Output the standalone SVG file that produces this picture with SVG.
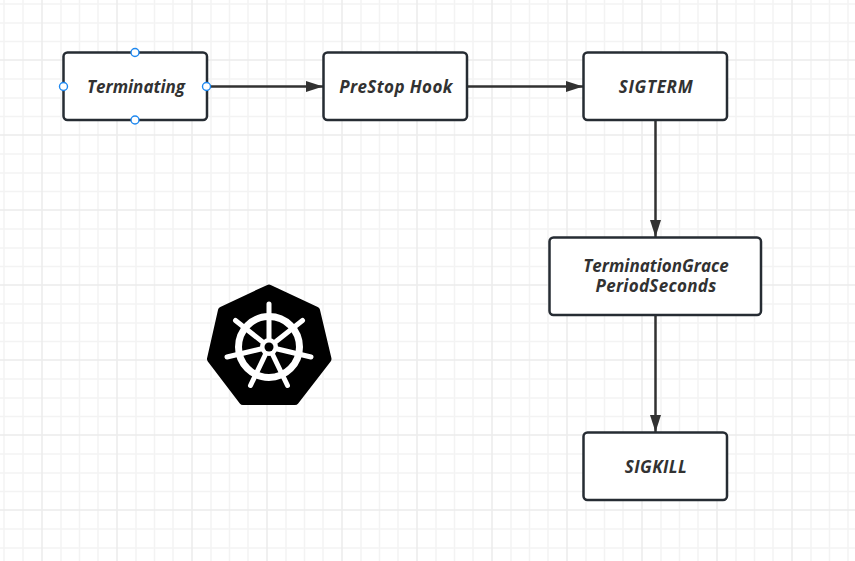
<svg xmlns="http://www.w3.org/2000/svg" width="855" height="561" viewBox="0 0 855 561">
<style>
.minor{stroke:#f3f3f3;stroke-width:1.5;fill:none}
.major{stroke:#ebebeb;stroke-width:1.5;fill:none}
.box{fill:#fff;stroke:#262c33;stroke-width:2.5}
.lbl{font-family:"Open Sans","Noto Sans",sans-serif;font-size:17px;font-weight:700;font-style:italic;fill:#323232;text-anchor:middle}
.edge{stroke:#323232;stroke-width:2.5;fill:none;marker-end:url(#arrow)}
.anchor{fill:#fff;stroke:#1e88f0;stroke-width:1.4}
.spoke{stroke:#fff;stroke-width:5;stroke-linecap:round;fill:none}
</style>
<defs>
<marker id="arrow" markerUnits="userSpaceOnUse" markerWidth="18" markerHeight="12" refX="17" refY="6" orient="auto"><path d="M0 .5L17 6L0 11.5z" fill="#323232"/></marker>
</defs>
<rect width="855" height="561" fill="#fff"/>
<g id="grid">
<path class="minor" d="M4 0V561M23 0V561M61 0V561M79.500 0V561M98 0V561M136 0V561M154.500 0V561M173 0V561M211 0V561M229.500 0V561M248 0V561M286 0V561M304.500 0V561M323 0V561M361 0V561M379.500 0V561M398 0V561M436 0V561M454.500 0V561M473 0V561M511 0V561M529.500 0V561M548 0V561M586 0V561M604.500 0V561M623 0V561M661 0V561M679.500 0V561M698 0V561M736 0V561M754.500 0V561M773 0V561M811 0V561M829.500 0V561M848 0V561"/>
<path class="minor" d="M0 4H855M0 23H855M0 41.500H855M0 79H855M0 98H855M0 116.500H855M0 154H855M0 173H855M0 191.500H855M0 229H855M0 248H855M0 266.500H855M0 304H855M0 323H855M0 341.500H855M0 379H855M0 398H855M0 416.500H855M0 454H855M0 473H855M0 491.500H855M0 529H855M0 548H855"/>
<path class="major" d="M42 0V561M117 0V561M192 0V561M267 0V561M342 0V561M417 0V561M492 0V561M567 0V561M642 0V561M717 0V561M792 0V561"/>
<path class="major" d="M0 60H855M0 135H855M0 210H855M0 285H855M0 360H855M0 435H855M0 510H855"/>
</g>
<g id="connectors">
<path class="edge" d="M207 86.500H323"/>
<path class="edge" d="M467 86.500H583"/>
<path class="edge" d="M655.500 121V237"/>
<path class="edge" d="M655.500 315V432"/>
</g>
<g id="node-terminating">
<rect class="box" x="63.500" y="52.500" width="143.500" height="67.500" rx="4"/>
<text class="lbl" x="136" y="93">Terminating</text>
<circle class="anchor" cx="135" cy="52.500" r="4"/>
<circle class="anchor" cx="63.500" cy="86.500" r="4"/>
<circle class="anchor" cx="206.500" cy="86.500" r="4"/>
<circle class="anchor" cx="135" cy="120" r="4"/>
</g>
<g id="node-prestop">
<rect class="box" x="323.500" y="52.500" width="143.500" height="67.500" rx="4"/>
<text class="lbl" x="396" y="93" style="letter-spacing:.4px">PreStop Hook</text>
</g>
<g id="node-sigterm">
<rect class="box" x="583.500" y="52.500" width="143.500" height="67.500" rx="4"/>
<text class="lbl" x="656" y="93" style="letter-spacing:.7px">SIGTERM</text>
</g>
<g id="node-grace">
<rect class="box" x="549.500" y="237.500" width="211.500" height="77.500" rx="4"/>
<text class="lbl"><tspan x="656" y="272">TerminationGrace</tspan><tspan x="656" y="292" style="letter-spacing:.3px">PeriodSeconds</tspan></text>
</g>
<g id="node-sigkill">
<rect class="box" x="583.500" y="432.500" width="143.500" height="67.500" rx="4"/>
<text class="lbl" x="656" y="472.500" style="letter-spacing:.4px">SIGKILL</text>
</g>
<g id="kubernetes-logo">
<path d="M269 288.500L316 310.500L327.500 359L295 401H243L211 359L222 310.500Z" fill="#000" stroke="#000" stroke-width="8" stroke-linejoin="round"/>
<circle cx="269" cy="347" r="30.500" fill="none" stroke="#fff" stroke-width="7"/>
<path class="spoke" d="M269 347V304M269 347L302.500 320.500M269 347L311 357M269 347L287.500 385.500M269 347L250.500 385.500M269 347L227 357M269 347L235.500 320.500"/>
<circle cx="269" cy="347" r="9" fill="#fff"/>
<circle cx="269" cy="347" r="4.500" fill="#000"/>
</g>
</svg>
